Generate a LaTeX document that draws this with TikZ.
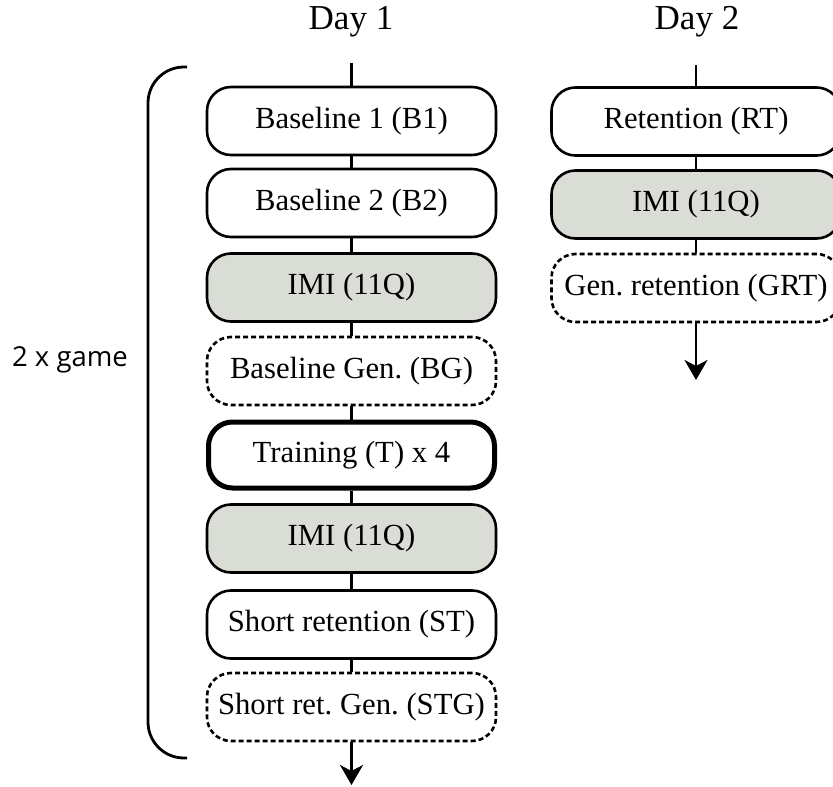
\documentclass[tikz,border=0pt]{standalone}
\usepackage{fontspec}
\setmainfont{Liberation Serif}
\newfontfamily\labelsans{Open Sans}
\usetikzlibrary{arrows.meta}
\frenchspacing

\definecolor{qgray}{RGB}{218,221,213}

\tikzset{
  stage/.style={draw, line width=2.6pt, rounded corners=24pt,
    minimum width=289pt, minimum height=68pt, inner sep=0pt,
    font=\fontsize{30.7}{36}\selectfont\frenchspacing, fill=white},
  quest/.style={stage, fill=qgray},
  gen/.style={stage, dash pattern=on 5pt off 3pt},
  train/.style={stage, line width=5pt, minimum width=286pt, minimum height=66pt},
  link/.style={line width=2.4pt},
  flow/.style={line width=2.4pt, -{Stealth[length=20pt,width=23pt,inset=6pt]}},
  daytitle/.style={font=\fontsize{35}{40}\selectfont},
  brace/.style={line width=2.8pt, rounded corners=36pt}
}

\begin{document}
\begin{tikzpicture}[x=1pt,y=-1pt]
  \useasboundingbox (0,0) rectangle (833,787);

  % column titles
  \node[daytitle] (d1) at (351,22) {Day 1};
  \node[daytitle] (d2) at (697,22) {Day 2};

  % day 1 sequence
  \node[stage] (b1)  at (351.5,121)   {Baseline 1 (B1)};
  \node[stage] (b2)  at (351.5,203)   {Baseline 2 (B2)};
  \node[quest] (q1)  at (351.5,287.5) {IMI (11Q)};
  \node[gen]   (bg)  at (351.5,371)   {Baseline Gen. (BG)};
  \node[train] (tr)  at (351.5,455)   {Training (T) x 4};
  \node[quest] (q2)  at (351.5,538.5) {IMI (11Q)};
  \node[stage] (st)  at (351.5,624.5) {Short retention (ST)};
  \node[gen]   (stg) at (351.5,707)   {Short ret. Gen. (STG)};

  % day 2 sequence
  \node[stage] (rt)  at (696,121.5) {Retention (RT)};
  \node[quest] (q3)  at (696,204.5) {IMI (11Q)};
  \node[gen]   (grt) at (696,288)   {Gen. retention (GRT)};

  % entry and exit points
  \coordinate (in1)  at (351.5,63);
  \coordinate (out1) at (351.5,785);
  \coordinate (in2)  at (696,65);
  \coordinate (out2) at (696,380);

  % connectors
  \draw[link] (in1) -- (b1.north);
  \draw[link] (b1) -- (b2);
  \draw[link] (b2) -- (q1);
  \draw[link] (q1) -- (bg);
  \draw[link] (bg) -- (tr);
  \draw[link] (tr) -- (q2);
  \draw[link] (q2) -- (st);
  \draw[link] (st) -- (stg);
  \draw[flow] (stg.south) -- (out1);

  \draw[link] (in2) -- (rt.north);
  \draw[link] (rt) -- (q3);
  \draw[link] (q3) -- (grt);
  \draw[flow] (grt.south) -- (out2);

  % repetition bracket
  \coordinate (bt) at (187,67);
  \coordinate (bb) at (187,758);
  \draw[brace] (bt) -- (148,67) -- (148,758) -- (bb);
  \node[font=\labelsans\fontsize{27.5}{32}\selectfont] (rep) at (70,360) {2 x game};
\end{tikzpicture}
\end{document}
